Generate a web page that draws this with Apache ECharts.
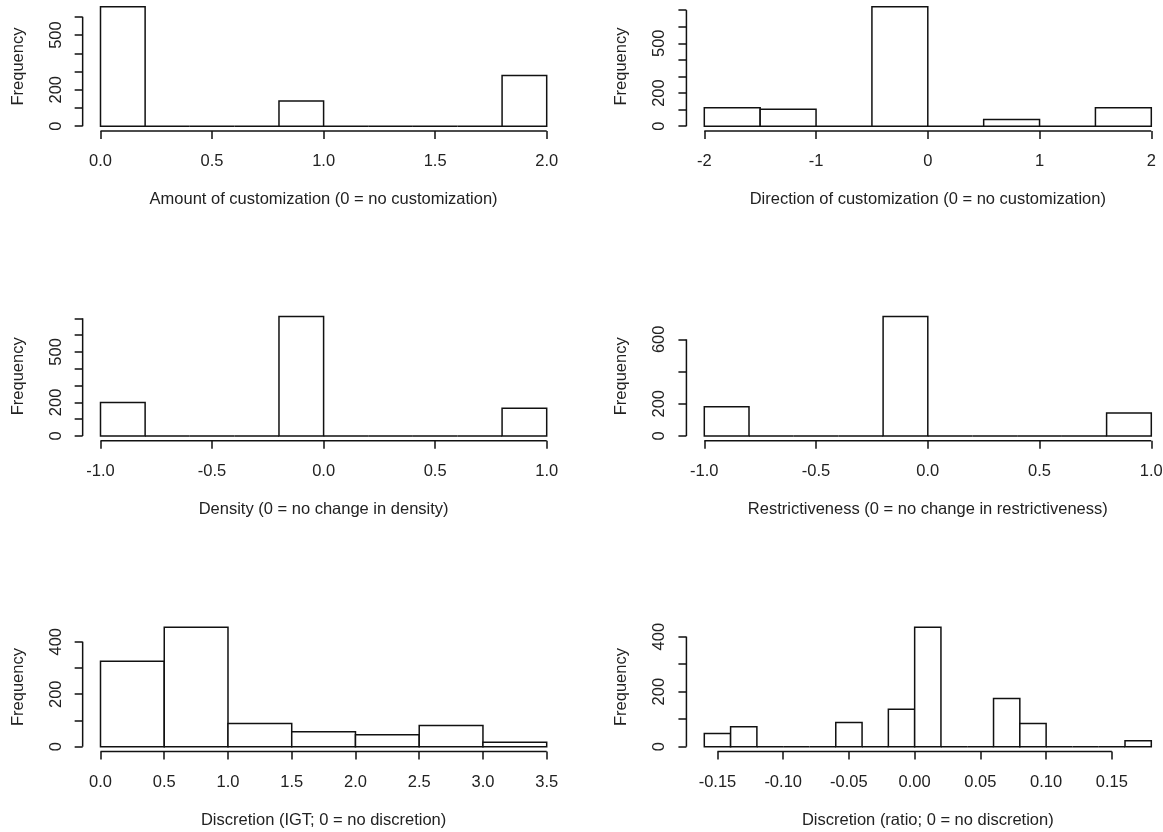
<!DOCTYPE html>
<html>
<head>
<meta charset="utf-8">
<title>Histograms</title>
<script src="https://cdn.jsdelivr.net/npm/echarts@6/dist/echarts.min.js"></script>
<style>
  html, body { margin: 0; padding: 0; background: #fff; }
  #main { width: 1163px; height: 832px; }
</style>
</head>
<body>
<div id="main"></div>
<script>
// --- data: bin edges, counts, ticks and labels for each histogram ---
var breaks1 = [0, 0.2, 0.4, 0.6, 0.8, 1.0, 1.2, 1.4, 1.6, 1.8, 2.0];
var counts1 = [655, 0, 0, 0, 138, 0, 0, 0, 0, 278];
var xTicks1 = [0, 0.5, 1, 1.5, 2];
var xLabels1 = ['0.0', '0.5', '1.0', '1.5', '2.0'];
var yTicks1 = [0, 100, 200, 300, 400, 500, 600];
var yLabels1 = [0, 200, 500];
var xTitle1 = 'Amount of customization (0 = no customization)';

var breaks2 = [-2, -1.5, -1, -0.5, 0, 0.5, 1, 1.5, 2];
var counts2 = [112, 102, 0, 720, 0, 40, 0, 112];
var xTicks2 = [-2, -1, 0, 1, 2];
var xLabels2 = ['-2', '-1', '0', '1', '2'];
var yTicks2 = [0, 100, 200, 300, 400, 500, 600, 700];
var yLabels2 = [0, 200, 500];
var xTitle2 = 'Direction of customization (0 = no customization)';

var breaks3 = [-1.0, -0.8, -0.6, -0.4, -0.2, 0, 0.2, 0.4, 0.6, 0.8, 1.0];
var counts3 = [200, 0, 0, 0, 710, 0, 0, 0, 0, 165];
var xTicks3 = [-1, -0.5, 0, 0.5, 1];
var xLabels3 = ['-1.0', '-0.5', '0.0', '0.5', '1.0'];
var yTicks3 = [0, 100, 200, 300, 400, 500, 600, 700];
var yLabels3 = [0, 200, 500];
var xTitle3 = 'Density (0 = no change in density)';

var breaks4 = [-1.0, -0.8, -0.6, -0.4, -0.2, 0, 0.2, 0.4, 0.6, 0.8, 1.0];
var counts4 = [182, 0, 0, 0, 741, 0, 0, 0, 0, 143];
var xTicks4 = [-1, -0.5, 0, 0.5, 1];
var xLabels4 = ['-1.0', '-0.5', '0.0', '0.5', '1.0'];
var yTicks4 = [0, 200, 400, 600];
var yLabels4 = [0, 200, 600];
var xTitle4 = 'Restrictiveness (0 = no change in restrictiveness)';

var breaks5 = [0, 0.5, 1.0, 1.5, 2.0, 2.5, 3.0, 3.5];
var counts5 = [326, 455, 88, 57, 46, 81, 17];
var xTicks5 = [0, 0.5, 1, 1.5, 2, 2.5, 3, 3.5];
var xLabels5 = ['0.0', '0.5', '1.0', '1.5', '2.0', '2.5', '3.0', '3.5'];
var yTicks5 = [0, 100, 200, 300, 400];
var yLabels5 = [0, 200, 400];
var xTitle5 = 'Discretion (IGT; 0 = no discretion)';

var breaks6 = [-0.16, -0.14, -0.12, -0.10, -0.08, -0.06, -0.04, -0.02, 0,
               0.02, 0.04, 0.06, 0.08, 0.10, 0.12, 0.14, 0.16, 0.18];
var counts6 = [48, 73, 0, 0, 0, 88, 0, 136, 434, 0, 0, 175, 84, 0, 0, 0, 22];
var xTicks6 = [-0.15, -0.10, -0.05, 0, 0.05, 0.10, 0.15];
var xLabels6 = ['-0.15', '-0.10', '-0.05', '0.00', '0.05', '0.10', '0.15'];
var yTicks6 = [0, 100, 200, 300, 400];
var yLabels6 = [0, 200, 400];
var xTitle6 = 'Discretion (ratio; 0 = no discretion)';

var yTitle = 'Frequency';

// --- layout (pixels) ---
var colLeft = [100.5, 704.3];      // where the first bin edge sits
var colWidth = [446.2, 447];       // span of the bin range
var rowBottom = [131, 440.8, 751.5]; // bottom edge of each plot region
var regionH = 129;
var ink = '#111';
var txt = { fontFamily: 'Liberation Sans, Arial, sans-serif', fontSize: 16.5, color: '#222' };

var panels = [
  { breaks: breaks1, counts: counts1, xTicks: xTicks1, xLabels: xLabels1, yTicks: yTicks1, yLabels: yLabels1, title: xTitle1 },
  { breaks: breaks2, counts: counts2, xTicks: xTicks2, xLabels: xLabels2, yTicks: yTicks2, yLabels: yLabels2, title: xTitle2 },
  { breaks: breaks3, counts: counts3, xTicks: xTicks3, xLabels: xLabels3, yTicks: yTicks3, yLabels: yLabels3, title: xTitle3 },
  { breaks: breaks4, counts: counts4, xTicks: xTicks4, xLabels: xLabels4, yTicks: yTicks4, yLabels: yLabels4, title: xTitle4 },
  { breaks: breaks5, counts: counts5, xTicks: xTicks5, xLabels: xLabels5, yTicks: yTicks5, yLabels: yLabels5, title: xTitle5 },
  { breaks: breaks6, counts: counts6, xTicks: xTicks6, xLabels: xLabels6, yTicks: yTicks6, yLabels: yLabels6, title: xTitle6 }
];

function renderBin(params, api) {
  var p0 = api.coord([api.value(0), 0]);
  var p1 = api.coord([api.value(1), api.value(2)]);
  return {
    type: 'rect',
    shape: { x: p0[0], y: p1[1], width: p1[0] - p0[0], height: p0[1] - p1[1] },
    style: { fill: '#fff', stroke: ink, lineWidth: 1.5 }
  };
}

function renderAxisLine(params, api) {
  var a = api.coord([api.value(0), api.value(1)]);
  var b = api.coord([api.value(2), api.value(3)]);
  return {
    type: 'line',
    shape: { x1: a[0], y1: a[1], x2: b[0], y2: b[1] },
    style: { stroke: ink, lineWidth: 1.5 }
  };
}

var option = { animation: false, backgroundColor: '#fff', grid: [], xAxis: [], yAxis: [], series: [] };

panels.forEach(function (p, i) {
  var col = i % 2, row = Math.floor(i / 2);
  var lo = p.breaks[0], hi = p.breaks[p.breaks.length - 1], xr = hi - lo;
  var maxC = Math.max.apply(null, p.counts);
  var xMin = lo - 0.04 * xr, xMax = hi + 0.04 * xr;
  var yMin = -0.04 * maxC, yMax = 1.04 * maxC;

  option.grid.push({
    left: colLeft[col] - 0.04 * colWidth[col],
    width: colWidth[col] * 1.08,
    top: rowBottom[row] - regionH,
    height: regionH,
    outerBoundsMode: 'none'
  });

  option.xAxis.push({
    type: 'value', gridIndex: i, min: xMin, max: xMax, position: 'bottom',
    name: p.title, nameLocation: 'middle', nameGap: 60,
    nameTextStyle: txt,
    axisLine: { show: false, onZero: false },
    splitLine: { show: false },
    axisTick: { customValues: p.xTicks, length: 8, lineStyle: { color: ink, width: 1.5 } },
    axisLabel: {
      customValues: p.xTicks, margin: 22,
      fontFamily: txt.fontFamily, fontSize: txt.fontSize, color: txt.color,
      formatter: function (v) {
        for (var k = 0; k < p.xTicks.length; k++) {
          if (Math.abs(p.xTicks[k] - v) < 1e-9) return p.xLabels[k];
        }
        return '';
      }
    }
  });

  option.yAxis.push({
    type: 'value', gridIndex: i, min: yMin, max: yMax, position: 'left',
    name: yTitle, nameLocation: 'middle', nameGap: 56,
    nameTextStyle: txt,
    axisLine: { show: false, onZero: false },
    splitLine: { show: false },
    axisTick: { customValues: p.yTicks, length: 8, lineStyle: { color: ink, width: 1.5 } },
    axisLabel: {
      customValues: p.yLabels, margin: 18, rotate: 90,
      fontFamily: txt.fontFamily, fontSize: txt.fontSize, color: txt.color
    }
  });

  var bins = [];
  for (var k = 0; k < p.counts.length; k++) {
    bins.push([p.breaks[k], p.breaks[k + 1], p.counts[k]]);
  }
  option.series.push({
    type: 'custom', xAxisIndex: i, yAxisIndex: i,
    renderItem: renderBin, data: bins,
    encode: { x: [0, 1], y: 2 }, silent: true
  });

  // R style axis lines: only from first to last tick
  option.series.push({
    type: 'custom', xAxisIndex: i, yAxisIndex: i,
    renderItem: renderAxisLine,
    data: [
      [p.xTicks[0], yMin, p.xTicks[p.xTicks.length - 1], yMin],
      [xMin, p.yTicks[0], xMin, p.yTicks[p.yTicks.length - 1]]
    ],
    encode: { x: [0, 2], y: [1, 3] }, silent: true
  });
});

var chart = echarts.init(document.getElementById('main'));
chart.setOption(option);
</script>
</body>
</html>
